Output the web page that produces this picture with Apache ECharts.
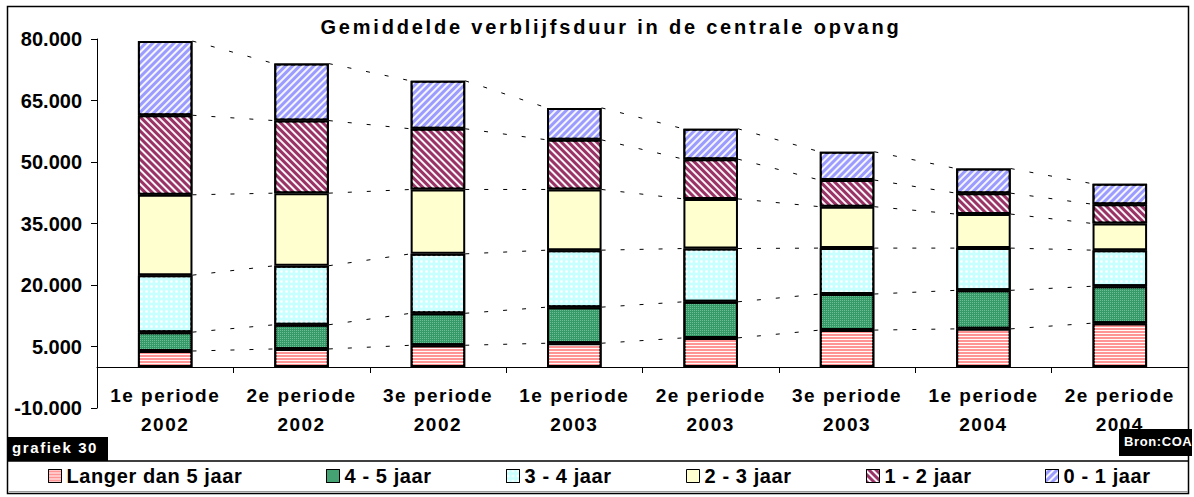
<!DOCTYPE html>
<html><head><meta charset="utf-8">
<script src="https://cdn.jsdelivr.net/npm/echarts@6/dist/echarts.min.js"></script>
<style>html,body{margin:0;padding:0;background:#fff}#c{width:1194px;height:497px}</style>
</head><body><div id="c"></div>
<script>
// ---- data ----
const categories = ['1e periode\n2002','2e periode\n2002','3e periode\n2002','1e periode\n2003','2e periode\n2003','3e periode\n2003','1e periode\n2004','2e periode\n2004'];
const seriesNames = ['Langer dan 5 jaar','4 - 5 jaar','3 - 4 jaar','2 - 3 jaar','1 - 2 jaar','0 - 1 jaar'];
const langer5 = [3900, 4400, 5300, 5800, 7100, 9000, 9300, 10700];
const jaar4_5 = [4600, 5900, 7800, 8800, 8800, 8800, 9400, 9000];
const jaar3_4 = [13900, 14400, 14500, 13900, 13000, 11200, 10300, 8800];
const jaar2_3 = [19600, 17700, 15700, 14800, 12100, 10100, 8300, 6500];
const jaar1_2 = [19400, 17700, 14800, 12100, 9700, 6500, 5100, 4700];
const jaar0_1 = [18100, 13900, 11700, 7800, 7400, 6900, 6000, 5000];
const yMin = -10000, yMax = 80000, yStep = 15000;
const titleText = 'Gemiddelde verblijfsduur in de centrale opvang';

// ---- styling ----
const FONT = '"Liberation Sans", Arial, sans-serif';
const stacks = [langer5, jaar4_5, jaar3_4, jaar2_3, jaar1_2, jaar0_1];
const baseColors = ['#FF9494', '#359968', '#C8FFFF', '#FFFFD0', '#993366', '#9C9CFF'];
const decals = [
  {symbol:'rect', symbolSize:1, color:'rgba(255,255,255,0.95)', dashArrayX:[1,0], dashArrayY:[1,2], rotation:0},
  {symbol:'rect', symbolSize:1, color:'rgba(170,225,195,0.5)', dashArrayX:[1,1], dashArrayY:[1,1], rotation:0},
  {symbol:'circle', symbolSize:0.9, color:'rgba(255,255,255,1)', dashArrayX:[3,1.5], dashArrayY:[3,1.5], rotation:0},
  null,
  {symbol:'rect', symbolSize:1, color:'rgba(255,255,255,0.95)', dashArrayX:[1,0], dashArrayY:[1.3,2.8], rotation:Math.PI/4},
  {symbol:'rect', symbolSize:1, color:'rgba(255,255,255,0.9)', dashArrayX:[1,0], dashArrayY:[1.3,2.4], rotation:-Math.PI/4}
];
const legendLefts = [48, 326, 506, 686, 866, 1045];

const cum = stacks.map((_, k) => categories.map((_, i) => stacks.slice(0, k + 1).reduce((s, a) => s + a[i], 0)));

function fmt(v) {
  const neg = v < 0; const s = String(Math.abs(v));
  const t = s.replace(/\B(?=(\d{3})+(?!\d))/g, '.');
  return (neg ? '-' : '') + t;
}

const chart = echarts.init(document.getElementById('c'), null, {renderer: 'svg'});

const barSeries = stacks.map((arr, k) => ({
  name: seriesNames[k], type: 'bar', stack: 'total', barWidth: '40%',
  data: arr,
  itemStyle: Object.assign({color: baseColors[k], borderColor: '#000', borderWidth: 2},
    decals[k] ? {decal: decals[k]} : {}),
  emphasis: {disabled: true}, z: 3
}));

const lineSeries = {
  type: 'custom', silent: true, z: 2,
  data: categories.slice(0, -1).map((_, i) => [i, 0]),
  encode: {x: 0, y: 1},
  renderItem: function (params, api) {
    const i = api.value(0);
    const half = api.size([1, 0])[0] * 0.2;
    return {type: 'group', children: cum.map(level => {
      const p1 = api.coord([i, level[i]]);
      const p2 = api.coord([i + 1, level[i + 1]]);
      return {type: 'line', shape: {x1: p1[0] + half, y1: p1[1], x2: p2[0] - half, y2: p2[1]},
        style: {stroke: '#000', lineWidth: 1, lineDash: [4, 15]}};
    })};
  }
};

const option = {
  animation: false,
  title: {text: titleText, left: 606, top: 12, textAlign: 'center',
    textStyle: {fontFamily: FONT, fontWeight: 'bold', fontSize: 20, color: '#000'}},
  grid: {left: 97, right: 6, top: 39, bottom: 89, containLabel: false},
  legend: seriesNames.map((n, k) => ({
    data: [n], left: legendLefts[k], top: 466, padding: 0, itemWidth: 13, itemHeight: 13,
    icon: 'rect', selectedMode: false,
    itemStyle: {borderColor: '#000', borderWidth: 1},
    textStyle: {fontFamily: FONT, fontWeight: 'bold', fontSize: 20, color: '#000'}
  })),
  xAxis: {
    type: 'category', data: categories,
    axisLine: {onZero: true, lineStyle: {color: '#000', width: 1}},
    axisTick: {show: true, length: 6, lineStyle: {color: '#000'}},
    axisLabel: {interval: 0, margin: -27, fontFamily: FONT, fontWeight: 'bold', fontSize: 19, color: '#000', lineHeight: 29}
  },
  yAxis: {
    type: 'value', min: yMin, max: yMax, interval: yStep,
    splitLine: {show: false},
    axisLine: {show: true, lineStyle: {color: '#000', width: 1}},
    axisTick: {show: true, length: 6, lineStyle: {color: '#000'}},
    axisLabel: {margin: 15, fontFamily: FONT, fontWeight: 'bold', fontSize: 20, color: '#000', formatter: fmt}
  },
  graphic: [
    {type: 'rect', shape: {x: 7.5, y: 6.5, width: 1181, height: 487}, style: {fill: 'none', stroke: '#000', lineWidth: 1.5}, z: -1},
    {type: 'line', shape: {x1: 7, y1: 461, x2: 1188, y2: 461}, style: {stroke: '#000', lineWidth: 1.5}},
    {type: 'line', shape: {x1: 9, y1: 491.5, x2: 1188, y2: 491.5}, style: {stroke: '#999', lineWidth: 1}},
    {type: 'rect', shape: {x: 7, y: 437, width: 101, height: 24}, style: {fill: '#000'}},
    {type: 'text', left: 12, top: 440, style: {text: 'grafiek 30', fill: '#fff', font: 'bold 15px ' + FONT}},
    {type: 'rect', shape: {x: 1119, y: 429, width: 73, height: 27}, style: {fill: '#000'}},
    {type: 'text', left: 1124, top: 435, style: {text: 'Bron:COA', fill: '#fff', font: 'bold 13px ' + FONT}}
  ],
  series: barSeries.concat([lineSeries])
};
chart.setOption(option);

const spacingRules = [
  [/^Gemiddelde/, '2.8px'],
  [/periode|^\d{4}$/, '1.5px'],
  [/jaar/, '0.6px'],
  [/^grafiek/, '1.6px'],
  [/^Bron/, '0.6px']
];
function applySpacing() {
  document.querySelectorAll('#c text').forEach(t => {
    const s = t.textContent;
    for (const [re, sp] of spacingRules) { if (re.test(s)) { t.style.letterSpacing = sp; break; } }
  });
}
chart.on('finished', applySpacing);
applySpacing();
</script></body></html>
